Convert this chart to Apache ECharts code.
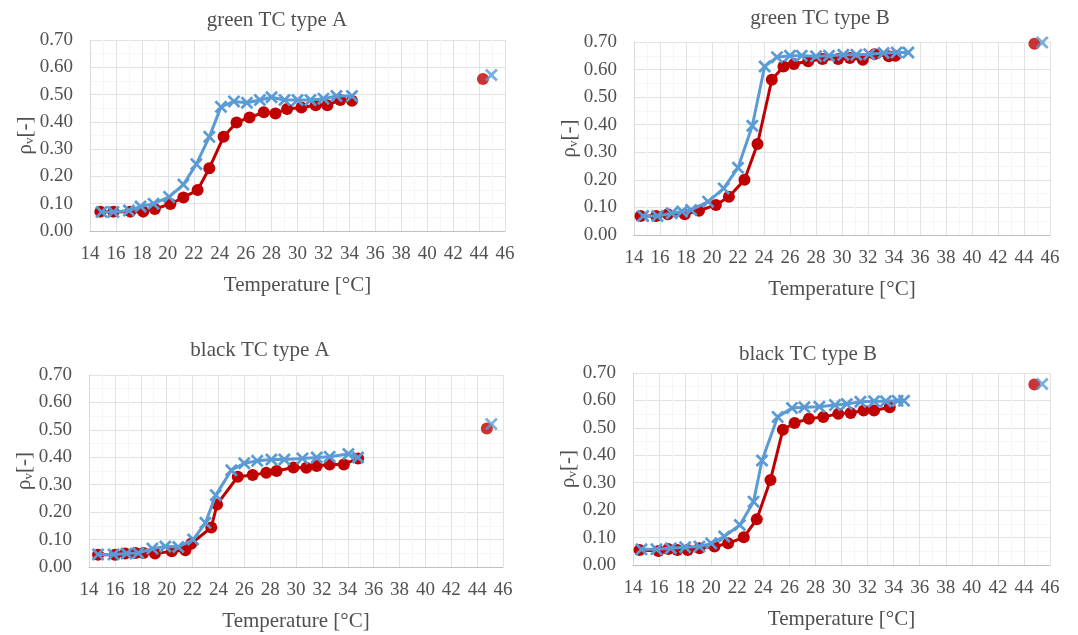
<!DOCTYPE html>
<html>
<head>
<meta charset="utf-8">
<script src="https://cdn.jsdelivr.net/npm/echarts@6/dist/echarts.min.js"></script>
<style>
html,body{margin:0;padding:0;background:#fff;}
#c{width:1078px;height:635px;}
</style>
</head>
<body>
<div id="c"></div>
<script>
// ---- DATA ----
const panelTitles = ['green TC type A', 'green TC type B', 'black TC type A', 'black TC type B'];
const xTicks = [14,16,18,20,22,24,26,28,30,32,34,36,38,40,42,44,46];
const yTicks = [0,0.1,0.2,0.3,0.4,0.5,0.6,0.7];

// green TC type A
const gA_red = [[14.8,0.071],[15.8,0.071],[17.1,0.071],[18.1,0.071],[19.0,0.081],[20.2,0.099],[21.2,0.123],[22.3,0.150],[23.2,0.230],[24.3,0.345],[25.3,0.398],[26.3,0.416],[27.4,0.435],[28.3,0.431],[29.2,0.447],[30.3,0.453],[31.4,0.461],[32.3,0.461],[33.3,0.480],[34.2,0.477]];
const gA_blue = [[14.9,0.070],[15.8,0.070],[17.0,0.075],[17.9,0.090],[18.9,0.100],[20.1,0.125],[21.2,0.170],[22.2,0.245],[23.2,0.345],[24.1,0.455],[25.1,0.475],[26.1,0.470],[27.1,0.480],[28.0,0.490],[29.0,0.480],[30.0,0.480],[31.0,0.480],[32.0,0.485],[33.0,0.495],[34.2,0.495]];
const gA_redOut = [[44.3,0.557]];
const gA_blueOut = [[44.95,0.572]];

// green TC type B
const gB_red = [[14.5,0.069],[15.7,0.069],[16.6,0.075],[17.9,0.075],[19.0,0.088],[20.3,0.109],[21.3,0.139],[22.5,0.200],[23.5,0.330],[24.6,0.563],[25.5,0.611],[26.3,0.620],[27.4,0.630],[28.5,0.638],[29.7,0.638],[30.6,0.642],[31.6,0.636],[32.5,0.656],[33.6,0.648],[34.1,0.650]];
const gB_blue = [[14.7,0.069],[15.8,0.069],[16.9,0.079],[17.7,0.085],[18.4,0.091],[19.7,0.121],[20.9,0.169],[22.0,0.244],[23.1,0.396],[24.05,0.611],[25.0,0.645],[26.0,0.650],[26.9,0.650],[28.0,0.648],[29.0,0.650],[30.1,0.654],[31.1,0.654],[32.1,0.656],[33.2,0.660],[34.2,0.662],[35.1,0.662]];
const gB_redOut = [[44.8,0.694]];
const gB_blueOut = [[45.4,0.698]];

// black TC type A
const bA_red = [[14.7,0.045],[16.0,0.045],[16.8,0.049],[17.6,0.051],[18.2,0.051],[19.1,0.049],[20.4,0.057],[21.45,0.061],[21.9,0.085],[23.45,0.144],[23.9,0.228],[25.5,0.329],[26.65,0.335],[27.7,0.344],[28.5,0.350],[29.8,0.363],[30.8,0.362],[31.6,0.368],[32.6,0.374],[33.7,0.374],[34.8,0.396]];
const bA_blue = [[14.7,0.046],[15.9,0.046],[16.9,0.049],[17.8,0.051],[18.9,0.067],[19.9,0.075],[20.9,0.073],[22.05,0.100],[23.0,0.161],[23.8,0.262],[25.0,0.353],[26.0,0.378],[27.0,0.387],[28.1,0.392],[29.1,0.392],[30.5,0.396],[31.6,0.399],[32.6,0.402],[34.05,0.412],[34.8,0.399]];
const bA_redOut = [[44.75,0.505]];
const bA_blueOut = [[45.1,0.521]];

// black TC type B
const bB_red = [[14.5,0.055],[15.95,0.051],[16.7,0.058],[17.4,0.055],[18.2,0.055],[19.1,0.061],[20.25,0.067],[21.3,0.079],[22.5,0.101],[23.5,0.167],[24.55,0.310],[25.5,0.493],[26.4,0.518],[27.5,0.533],[28.6,0.540],[29.75,0.551],[30.7,0.554],[31.7,0.563],[32.5,0.563],[33.7,0.575]];
const bB_blue = [[14.65,0.057],[15.8,0.057],[16.9,0.061],[18.0,0.065],[19.1,0.067],[20.0,0.079],[21.0,0.104],[22.2,0.146],[23.25,0.231],[23.9,0.381],[25.1,0.540],[26.2,0.572],[27.15,0.575],[28.3,0.577],[29.5,0.583],[30.4,0.587],[31.45,0.595],[32.5,0.597],[33.4,0.597],[34.3,0.599],[34.8,0.599]];
const bB_redOut = [[44.8,0.658]];
const bB_blueOut = [[45.4,0.660]];

const panels = [
  {red: gA_red, blue: gA_blue, redOut: gA_redOut, blueOut: gA_blueOut},
  {red: gB_red, blue: gB_blue, redOut: gB_redOut, blueOut: gB_blueOut},
  {red: bA_red, blue: bA_blue, redOut: bA_redOut, blueOut: bA_blueOut},
  {red: bB_red, blue: bB_blue, redOut: bB_redOut, blueOut: bB_blueOut}
];

// ---- LAYOUT / STYLE ----
const grids = [
  {left: 90, top: 40, width: 415, height: 191},
  {left: 634, top: 42, width: 416, height: 193},
  {left: 89, top: 375, width: 414, height: 192},
  {left: 633, top: 373, width: 417, height: 192}
];
const titlePos = [[277, 10], [820, 8], [260, 340], [808, 344]];
const RED = '#C00000';
const BLUE = '#5B9BD5';
const FONT = '"Liberation Serif", "Times New Roman", serif';
const TXT = '#505050';
const XPATH = 'path://M0,1.5L1.5,0L5,3.5L8.5,0L10,1.5L6.5,5L10,8.5L8.5,10L5,6.5L1.5,10L0,8.5L3.5,5Z';

const option = {
  animation: false,
  backgroundColor: '#fff',
  title: panelTitles.map((t, i) => ({
    text: t, left: titlePos[i][0], top: titlePos[i][1], textAlign: 'center', padding: 0,
    textStyle: {fontFamily: FONT, fontSize: 21, fontWeight: 'normal', color: TXT}
  })),
  grid: grids.map(g => Object.assign({containLabel: false}, g)),
  xAxis: grids.map((g, i) => ({
    type: 'value', gridIndex: i, min: xTicks[0], max: xTicks[xTicks.length - 1], interval: 2,
    name: 'Temperature [°C]', nameLocation: 'middle', nameGap: 44,
    nameTextStyle: {fontFamily: FONT, fontSize: 21, color: TXT},
    axisLine: {show: true, lineStyle: {color: '#BFBFBF', width: 1}},
    axisTick: {show: false},
    axisLabel: {fontFamily: FONT, fontSize: 19, color: TXT, margin: 14},
    splitLine: {show: true, lineStyle: {color: '#E2E2E2', width: 1}},
    minorTick: {show: false, splitNumber: 2},
    minorSplitLine: {show: true, lineStyle: {color: '#F6F6F6', width: 1}}
  })),
  yAxis: grids.map((g, i) => ({
    type: 'value', gridIndex: i, min: yTicks[0], max: yTicks[yTicks.length - 1], interval: 0.1,
    name: '{a|ρ}{b|v}{a|[-]}', nameLocation: 'middle', nameGap: 53,
    nameTextStyle: {
      fontFamily: FONT, color: TXT,
      rich: {
        a: {fontFamily: FONT, fontSize: 21, color: TXT},
        b: {fontFamily: FONT, fontSize: 13, color: TXT, verticalAlign: 'bottom', padding: [8, 0, 0, 0]}
      }
    },
    axisLine: {show: true, lineStyle: {color: '#D9D9D9', width: 1}},
    axisTick: {show: false},
    axisLabel: {fontFamily: FONT, fontSize: 19, color: TXT, margin: 17, formatter: v => v.toFixed(2)},
    splitLine: {show: true, lineStyle: {color: '#E2E2E2', width: 1}},
    minorTick: {show: false, splitNumber: 2},
    minorSplitLine: {show: true, lineStyle: {color: '#F6F6F6', width: 1}}
  })),
  series: []
};

panels.forEach((p, i) => {
  option.series.push({
    type: 'line', xAxisIndex: i, yAxisIndex: i, data: p.red,
    symbol: 'circle', symbolSize: 12, showAllSymbol: true,
    lineStyle: {color: RED, width: 3}, itemStyle: {color: RED}, z: 2
  });
  option.series.push({
    type: 'line', xAxisIndex: i, yAxisIndex: i, data: p.blue,
    symbol: XPATH, symbolSize: 13, showAllSymbol: true,
    lineStyle: {color: BLUE, width: 3}, itemStyle: {color: BLUE}, z: 3
  });
  option.series.push({
    type: 'scatter', xAxisIndex: i, yAxisIndex: i, data: p.redOut,
    symbol: 'circle', symbolSize: 12, itemStyle: {color: RED}, z: 2
  });
  option.series.push({
    type: 'scatter', xAxisIndex: i, yAxisIndex: i, data: p.blueOut,
    symbol: XPATH, symbolSize: 13, itemStyle: {color: BLUE}, z: 3
  });
});

const chart = echarts.init(document.getElementById('c'), null, {renderer: 'canvas'});
chart.setOption(option);
</script>
</body>
</html>
